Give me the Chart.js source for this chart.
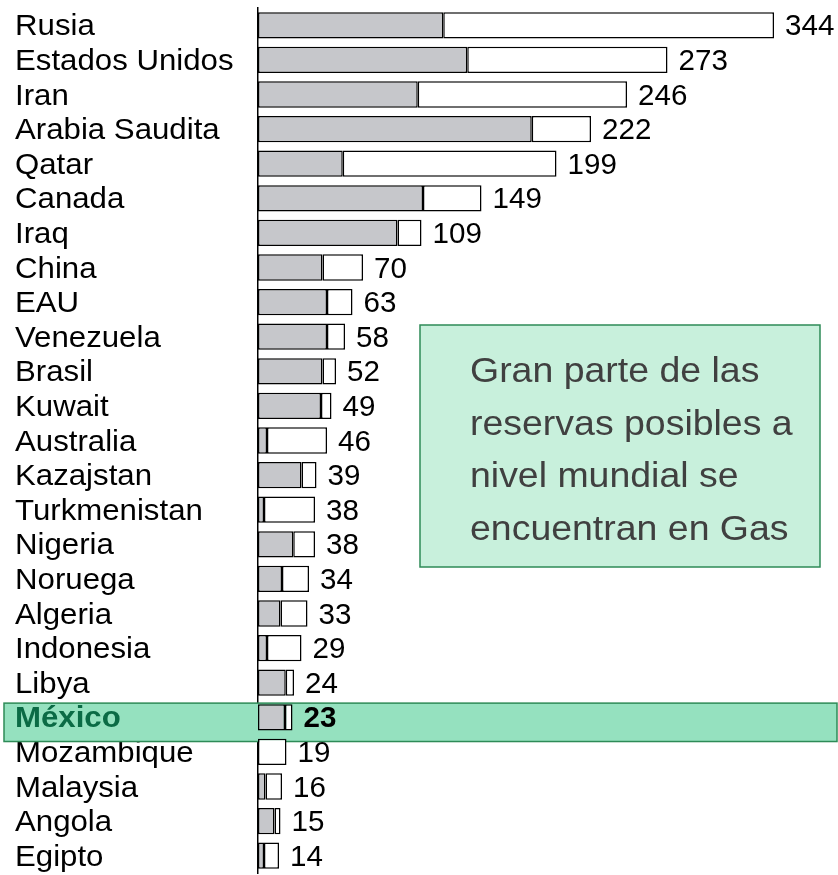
<!DOCTYPE html>
<html>
<head>
<meta charset="utf-8">
<script src="https://cdn.jsdelivr.net/npm/chart.js@4"></script>
<style>
  body { margin: 0; background: #fff; }
  #wrap { width: 838px; height: 875px; }
</style>
</head>
<body>
<div id="wrap"><canvas id="myCanvas"></canvas></div>
<script>
// reserves by country (total) and the gray (proved) share of each bar
const countries = ['Rusia', 'Estados Unidos', 'Iran', 'Arabia Saudita', 'Qatar', 'Canada', 'Iraq', 'China', 'EAU',
  'Venezuela', 'Brasil', 'Kuwait', 'Australia', 'Kazajstan', 'Turkmenistan', 'Nigeria', 'Noruega', 'Algeria',
  'Indonesia', 'Libya', 'México', 'Mozambique', 'Malaysia', 'Angola', 'Egipto'];
const totals = [344, 273, 246, 222, 199, 149, 109, 70, 63, 58, 52, 49, 46, 39, 38, 38, 34, 33, 29, 24, 23, 19, 16, 15, 14];
const grayPart = [123.5, 139.5, 106.5, 182.5, 56.5, 110, 93, 43, 46, 46, 43, 42, 6, 29, 4, 23.5, 16, 15, 6, 18.5, 18, 0, 5, 11, 4];
const highlight = 'México';
const noteLines = ['Gran parte de las', 'reservas posibles a', 'nivel mundial se', 'encuentran en Gas'];

const whitePart = totals.map((t, i) => t - grayPart[i]);

const FONT = '"Liberation Sans", Arial, sans-serif';

function drawText(ctx, txt, x, y, font, color, sx) {
  ctx.save();
  ctx.font = font;
  ctx.fillStyle = color;
  ctx.textAlign = 'left';
  ctx.textBaseline = 'alphabetic';
  ctx.translate(x, y);
  ctx.scale(sx || 1, 1);
  ctx.fillText(txt, 0, 0);
  ctx.restore();
}

const labelsPlugin = {
  id: 'labelsPlugin',
  beforeDatasetsDraw(chart) {
    const ctx = chart.ctx;
    const y = chart.scales.y;
    countries.forEach((c, i) => {
      if (c === highlight) return;
      drawText(ctx, c, 15, y.getPixelForValue(i) + 10, '30px ' + FONT, '#000', 1.04);
    });
    // highlight band behind the México row
    const hi = countries.indexOf(highlight);
    const cy = y.getPixelForValue(hi);
    const step = y.getPixelForValue(1) - y.getPixelForValue(0);
    ctx.save();
    ctx.fillStyle = '#95e1bf';
    ctx.strokeStyle = '#2e8b57';
    ctx.lineWidth = 1.5;
    ctx.fillRect(4, cy - 0.41 * step, 833, 1.11 * step);
    ctx.strokeRect(4, cy - 0.41 * step, 833, 1.11 * step);
    ctx.restore();
  },
  afterDatasetsDraw(chart) {
    const ctx = chart.ctx;
    const x = chart.scales.x;
    const y = chart.scales.y;
    totals.forEach((t, i) => {
      const bold = countries[i] === highlight;
      drawText(ctx, String(t), x.getPixelForValue(t) + 11, y.getPixelForValue(i) + 10,
        (bold ? 'bold ' : '') + '29px ' + FONT, '#000', 1.02);
    });
    const hi = countries.indexOf(highlight);
    drawText(ctx, highlight, 15, y.getPixelForValue(hi) + 10, 'bold 30px ' + FONT, '#0b6b45', 1.04);

    // note box
    ctx.save();
    ctx.fillStyle = '#c8f0dc';
    ctx.strokeStyle = '#2e8b57';
    ctx.lineWidth = 1.5;
    ctx.fillRect(420, 325, 400, 242);
    ctx.strokeRect(420, 325, 400, 242);
    ctx.restore();
    noteLines.forEach((l, i) => {
      drawText(ctx, l, 470, 382 + i * 52.5, '35px ' + FONT, '#404040', 1.07);
    });
  }
};

const data = {
  labels: countries,
  datasets: [
    {
      data: grayPart,
      backgroundColor: '#c6c7cb',
      borderColor: '#000',
      borderWidth: 1.5,
      borderSkipped: false,
      barPercentage: 0.76,
      categoryPercentage: 1
    },
    {
      data: whitePart,
      backgroundColor: '#ffffff',
      borderColor: '#000',
      borderWidth: 1.5,
      borderSkipped: false,
      barPercentage: 0.76,
      categoryPercentage: 1
    }
  ]
};

const myChart = new Chart(document.getElementById('myCanvas'), {
  type: 'bar',
  data: data,
  options: {
    indexAxis: 'y',
    responsive: true,
    maintainAspectRatio: false,
    animation: false,
    layout: { padding: { left: 15, right: 10, top: 8, bottom: 2 } },
    plugins: { legend: { display: false }, tooltip: { enabled: false } },
    scales: {
      x: { display: false, stacked: true, min: 0, max: 380 },
      y: {
        stacked: true,
        offset: true,
        grid: { display: false },
        border: { display: true, color: '#000', width: 1.5 },
        ticks: { display: false },
        afterFit(scale) { scale.width = 243; }
      }
    }
  },
  plugins: [labelsPlugin]
});
</script>
</body>
</html>
